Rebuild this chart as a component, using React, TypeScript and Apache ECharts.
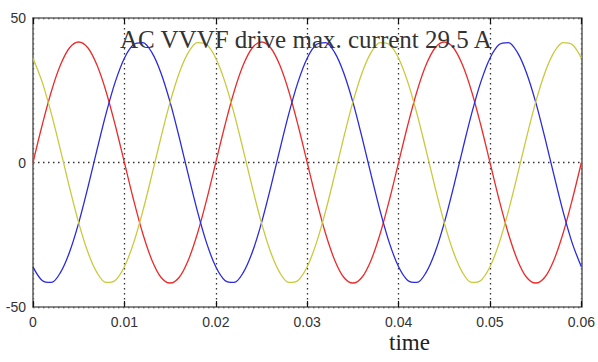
import React, { useEffect, useRef } from "react";
import * as echarts from "echarts";

const times = [
  0, 0.001, 0.002, 0.003, 0.004, 0.005, 0.006, 0.007, 0.008, 0.009,
  0.01, 0.011, 0.012, 0.013, 0.014, 0.015, 0.016, 0.017, 0.018, 0.019,
  0.02, 0.021, 0.022, 0.023, 0.024, 0.025, 0.026, 0.027, 0.028, 0.029,
  0.03, 0.031, 0.032, 0.033, 0.034, 0.035, 0.036, 0.037, 0.038, 0.039,
  0.04, 0.041, 0.042, 0.043, 0.044, 0.045, 0.046, 0.047, 0.048, 0.049,
  0.05, 0.051, 0.052, 0.053, 0.054, 0.055, 0.056, 0.057, 0.058, 0.059,
  0.06,
];

const phaseA = [
  0, 12.9, 24.5, 33.7, 39.7, 41.7, 39.7, 33.7, 24.5, 12.9,
  0, -12.9, -24.5, -33.7, -39.7, -41.7, -39.7, -33.7, -24.5, -12.9,
  0, 12.9, 24.5, 33.7, 39.7, 41.7, 39.7, 33.7, 24.5, 12.9,
  0, -12.9, -24.5, -33.7, -39.7, -41.7, -39.7, -33.7, -24.5, -12.9,
  0, 12.9, 24.5, 33.7, 39.7, 41.7, 39.7, 33.7, 24.5, 12.9,
  0, -12.9, -24.5, -33.7, -39.7, -41.7, -39.7, -33.7, -24.5, -12.9,
  0,
];

const phaseB = [
  -36.1, -40.8, -41.5, -38.1, -31.0, -20.9, -8.7, 4.4, 17.0, 27.9,
  36.1, 40.8, 41.5, 38.1, 31.0, 20.9, 8.7, -4.4, -17.0, -27.9,
  -36.1, -40.8, -41.5, -38.1, -31.0, -20.9, -8.7, 4.4, 17.0, 27.9,
  36.1, 40.8, 41.5, 38.1, 31.0, 20.9, 8.7, -4.4, -17.0, -27.9,
  -36.1, -40.8, -41.5, -38.1, -31.0, -20.9, -8.7, 4.4, 17.0, 27.9,
  36.1, 40.8, 41.5, 38.1, 31.0, 20.9, 8.7, -4.4, -17.0, -27.9,
  -36.1,
];

const phaseC = [
  36.1, 27.9, 17.0, 4.4, -8.7, -20.9, -31.0, -38.1, -41.5, -40.8,
  -36.1, -27.9, -17.0, -4.4, 8.7, 20.9, 31.0, 38.1, 41.5, 40.8,
  36.1, 27.9, 17.0, 4.4, -8.7, -20.9, -31.0, -38.1, -41.5, -40.8,
  -36.1, -27.9, -17.0, -4.4, 8.7, 20.9, 31.0, 38.1, 41.5, 40.8,
  36.1, 27.9, 17.0, 4.4, -8.7, -20.9, -31.0, -38.1, -41.5, -40.8,
  -36.1, -27.9, -17.0, -4.4, 8.7, 20.9, 31.0, 38.1, 41.5, 40.8,
  36.1,
];

const titleText = "AC VVVF drive max. current 29.5 A";
const xAxisTitle = "time";
const xMin = 0;
const xMax = 0.06;
const xStep = 0.01;
const yMin = -50;
const yMax = 50;
const yStep = 50;

const seriesDefs = [
  { name: "A", values: phaseA, color: "#ec2b2b" },
  { name: "B", values: phaseB, color: "#2a2ae0" },
  { name: "C", values: phaseC, color: "#c9c93e" },
];

export default function App() {
  const ref = useRef<HTMLDivElement>(null);

  useEffect(() => {
    if (!ref.current) return;
    const chart = echarts.init(ref.current, null, { renderer: "svg" });
    const dotted = { color: "#333", width: 1.3, type: [1.5, 3.5] as any };
    const fmt = (v: number) => String(+v.toFixed(2));
    chart.setOption({
      animation: false,
      backgroundColor: "#ffffff",
      grid: { left: 33, right: 14, top: 18, bottom: 55, containLabel: false },
      xAxis: [
        {
          type: "value",
          min: xMin,
          max: xMax,
          interval: xStep,
          position: "bottom",
          axisLine: { show: true, onZero: false, lineStyle: { color: "#666", width: 1.6 } },
          axisTick: { show: true, inside: true, length: 6, lineStyle: { color: "#111", width: 1.2 } },
          axisLabel: {
            formatter: fmt,
            margin: 8,
            color: "#333",
            fontFamily: "Liberation Sans",
            fontSize: 14,
          },
          splitLine: { show: true, lineStyle: dotted },
        },
        {
          type: "value",
          min: xMin,
          max: xMax,
          interval: xStep,
          position: "top",
          axisLine: { show: true, onZero: false, lineStyle: { color: "#666", width: 1.6 } },
          axisTick: { show: true, inside: true, length: 6, lineStyle: { color: "#111", width: 1.2 } },
          axisLabel: { show: false },
          splitLine: { show: false },
        },
      ],
      yAxis: [
        {
          type: "value",
          min: yMin,
          max: yMax,
          interval: yStep,
          position: "left",
          axisLine: { show: true, onZero: false, lineStyle: { color: "#666", width: 1.6 } },
          axisTick: { show: false },
          axisLabel: {
            margin: 7,
            color: "#333",
            fontFamily: "Liberation Sans",
            fontSize: 14,
          },
          splitLine: { show: true, lineStyle: dotted },
        },
        {
          type: "value",
          min: yMin,
          max: yMax,
          interval: yStep,
          position: "right",
          axisLine: { show: true, onZero: false, lineStyle: { color: "#666", width: 1.6 } },
          axisTick: { show: false },
          axisLabel: { show: false },
          splitLine: { show: false },
        },
      ],
      series: seriesDefs.map((s) => ({
        name: s.name,
        type: "line",
        xAxisIndex: 0,
        yAxisIndex: 0,
        data: times.map((t, i) => [t, s.values[i]]),
        smooth: 0.33,
        showSymbol: false,
        lineStyle: { color: s.color, width: 1.3 },
        itemStyle: { color: s.color },
      })),
      graphic: [
        {
          type: "text",
          x: 120,
          y: 39,
          z: 100,
          style: {
            text: titleText,
            font: "25px 'Liberation Serif'",
            fill: "#333",
            textAlign: "left",
            textVerticalAlign: "middle",
          },
        },
        {
          type: "text",
          x: 389,
          y: 342,
          style: {
            text: xAxisTitle,
            font: "23px 'Liberation Serif'",
            fill: "#222",
            textAlign: "left",
            textVerticalAlign: "middle",
          },
        },
      ],
    });
    return () => chart.dispose();
  }, []);

  return (
    <div
      ref={ref}
      style={{ position: "fixed", left: 0, top: 0, width: 598, height: 362, background: "#fff" }}
    />
  );
}
